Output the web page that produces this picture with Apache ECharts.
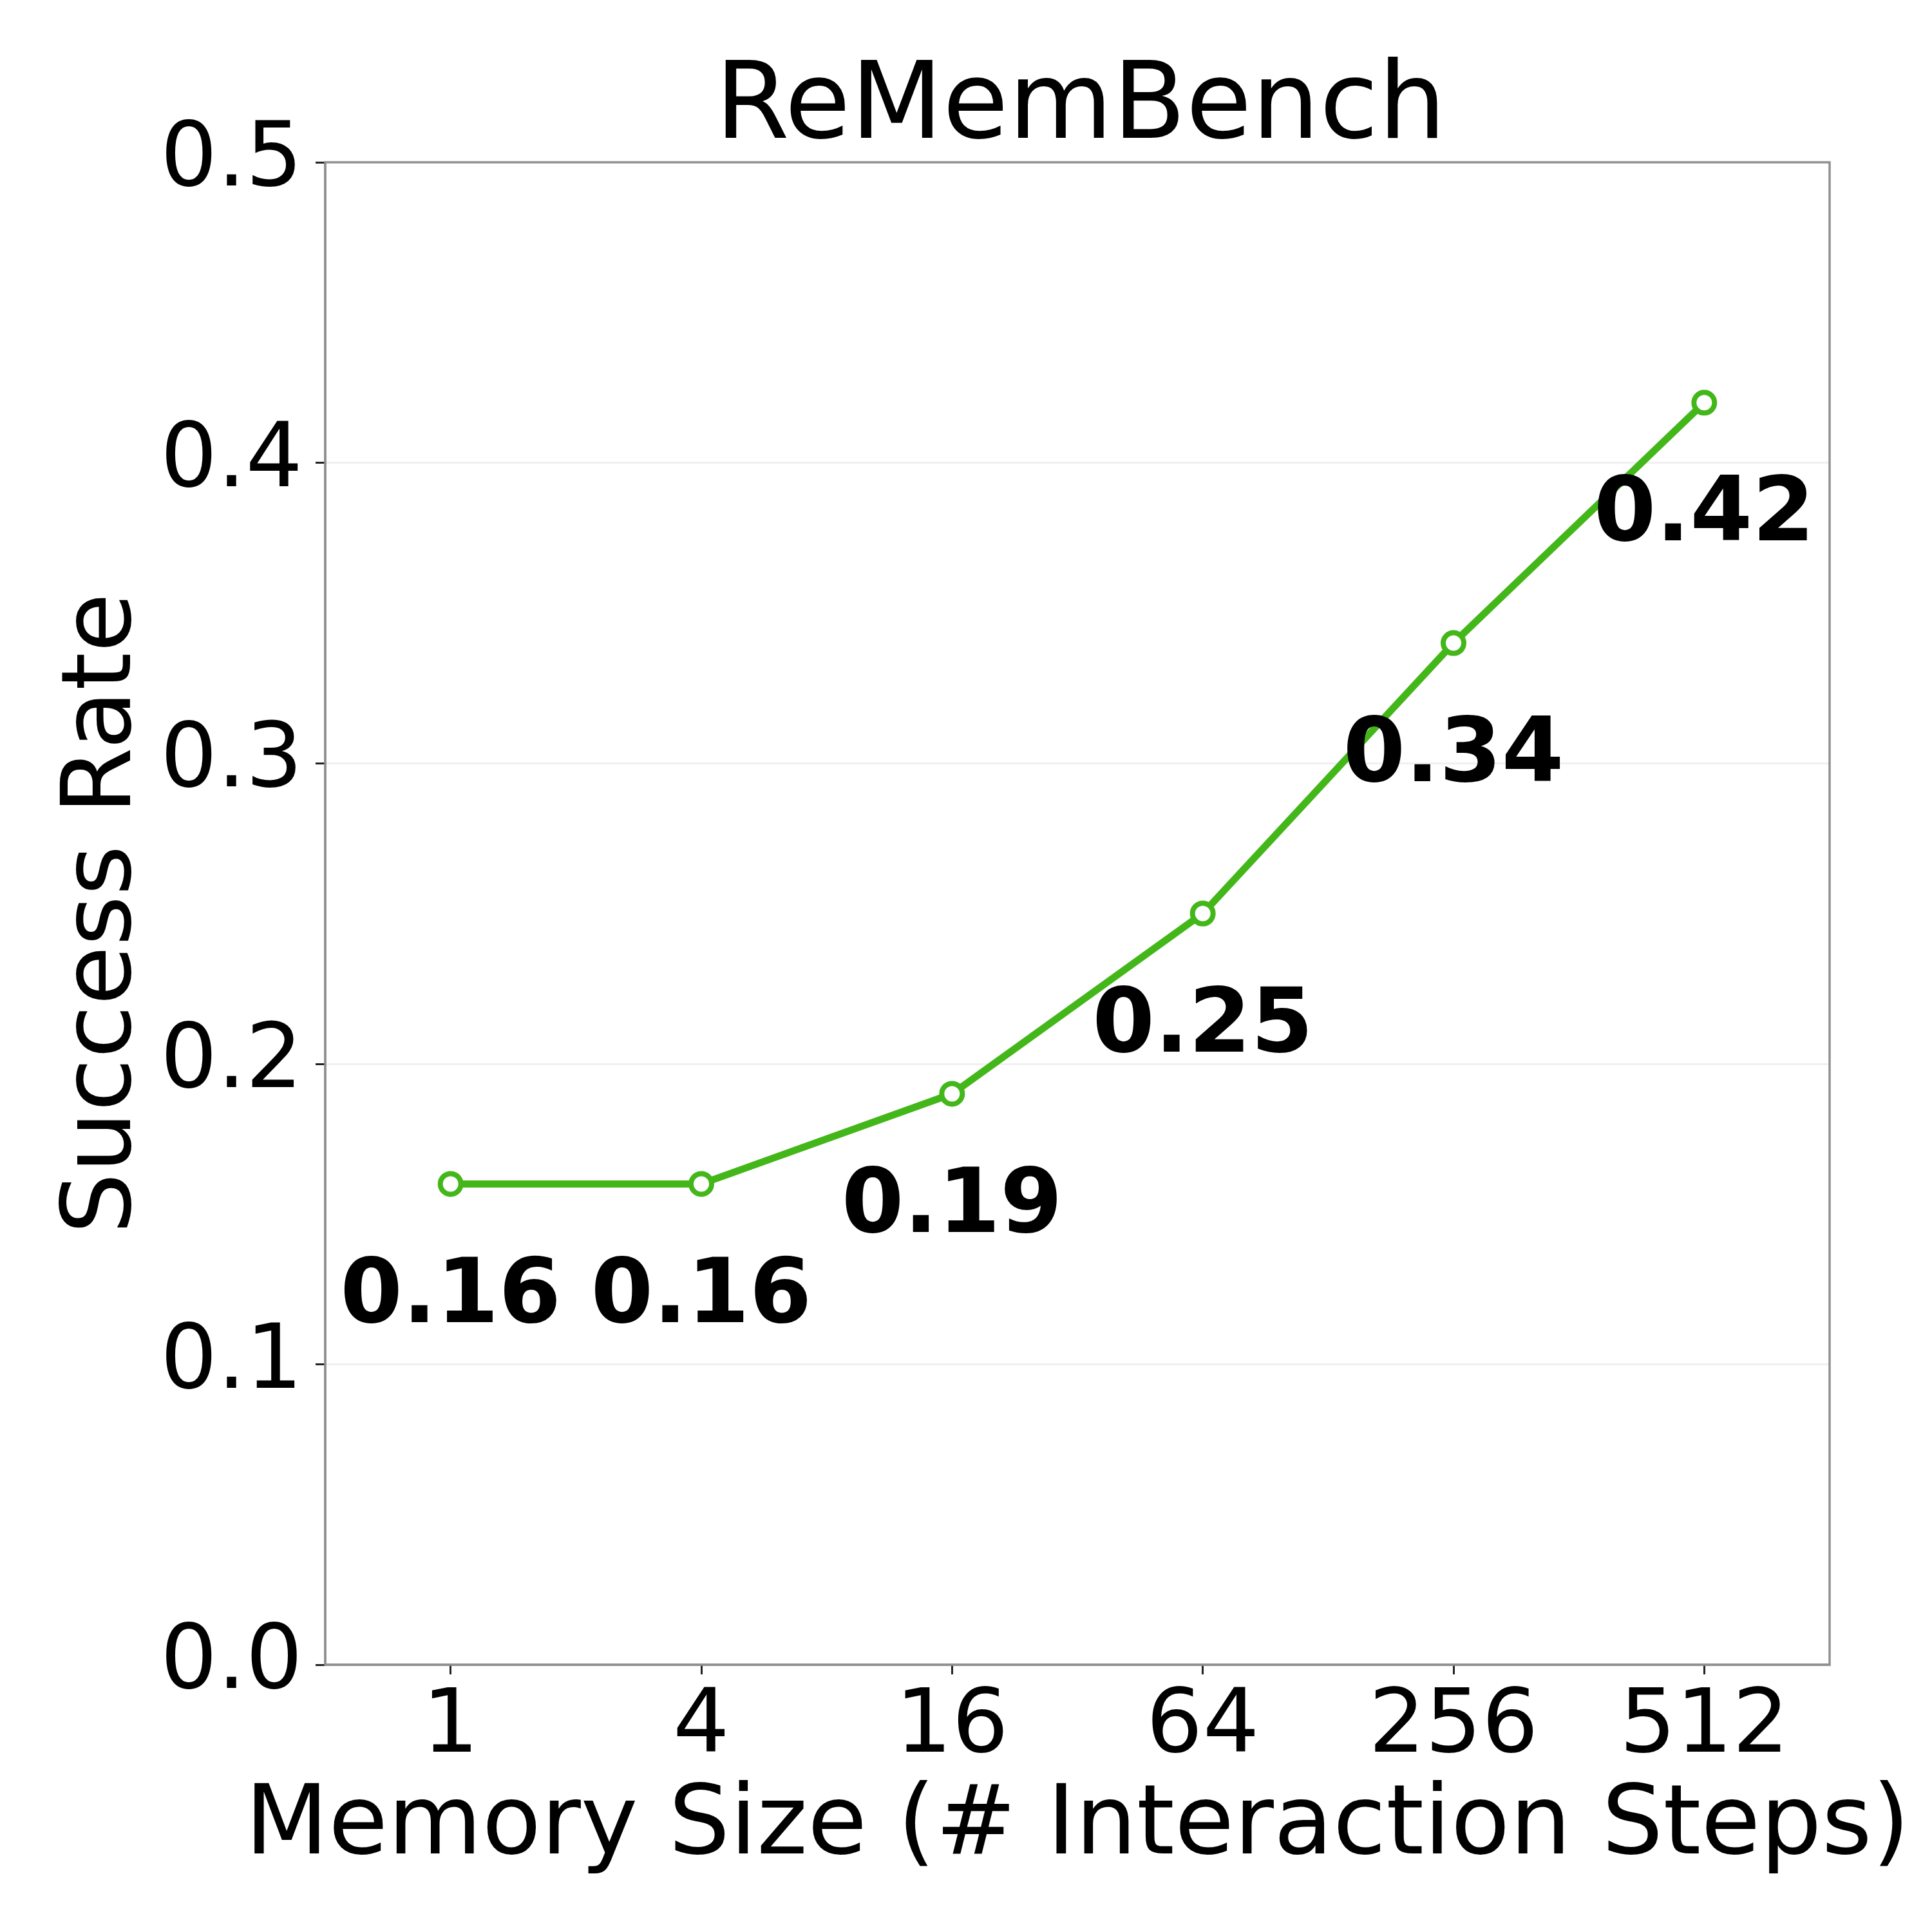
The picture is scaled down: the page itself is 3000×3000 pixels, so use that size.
<!DOCTYPE html>
<html>
<head>
<meta charset="utf-8">
<script src="https://cdn.jsdelivr.net/npm/echarts@6/dist/echarts.min.js"></script>
<style>
html,body{margin:0;padding:0;background:#fff;}
#c{width:3000px;height:3000px;}
</style>
</head>
<body>
<div id="c"></div>
<script>
var categories = ['1', '4', '16', '64', '256', '512'];
var successRate = [0.16, 0.16, 0.19, 0.25, 0.34, 0.42];
var yTicks = [0.0, 0.1, 0.2, 0.3, 0.4, 0.5];

var FONT = 'DejaVu Sans';
var GREEN = '#43b71a';
var chart = echarts.init(document.getElementById('c'), null, {renderer: 'canvas', devicePixelRatio: 1});
chart.setOption({
  backgroundColor: '#ffffff',
  animation: false,
  title: {
    text: 'ReMemBench',
    left: 1673,
    textAlign: 'center',
    top: 83,
    textStyle: {fontFamily: FONT, fontSize: 166, fontWeight: 'normal', color: '#000'}
  },
  grid: {
    left: 505, top: 252, right: 159, bottom: 415,
    show: true, borderColor: '#909090', borderWidth: 3.5, backgroundColor: 'transparent', z: 5
  },
  xAxis: {
    type: 'category',
    data: categories,
    boundaryGap: true,
    name: 'Memory Size (# Interaction Steps)',
    nameLocation: 'middle',
    nameGap: 179,
    nameTextStyle: {fontFamily: FONT, fontSize: 150, color: '#000'},
    axisLine: {show: true, lineStyle: {color: '#909090', width: 3.5}},
    axisTick: {show: true, alignWithLabel: true, length: 15, lineStyle: {color: '#222', width: 3}},
    axisLabel: {fontFamily: FONT, fontSize: 138, color: '#000', margin: 30},
    splitLine: {show: false}
  },
  yAxis: {
    type: 'value',
    min: 0, max: 0.5, interval: 0.1,
    name: 'Success Rate',
    nameLocation: 'middle',
    nameGap: 263,
    nameTextStyle: {fontFamily: FONT, fontSize: 150, color: '#000'},
    axisLine: {show: true, lineStyle: {color: '#909090', width: 3.5}},
    axisTick: {show: true, length: 15, lineStyle: {color: '#222', width: 3}},
    axisLabel: {
      fontFamily: FONT, fontSize: 139, color: '#000', margin: 35,
      formatter: function (v) {
        var i = yTicks.findIndex(function (t) { return Math.abs(t - v) < 1e-9; });
        return i >= 0 ? yTicks[i].toFixed(1) : '';
      }
    },
    splitLine: {show: true, showMinLine: false, showMaxLine: false, lineStyle: {color: '#f0f0f0', width: 3}}
  },
  series: [{
    type: 'line',
    data: successRate,
    symbol: 'circle',
    symbolSize: 32,
    lineStyle: {color: GREEN, width: 11},
    itemStyle: {color: '#ffffff', borderColor: GREEN, borderWidth: 8},
    label: {
      show: true,
      position: 'inside',
      offset: [0, 178],
      fontFamily: FONT, fontSize: 139, fontWeight: 'bold', color: '#000',
      formatter: function (p) { return p.value.toFixed(2); }
    },
    z: 3
  }]
});
</script>
</body>
</html>
